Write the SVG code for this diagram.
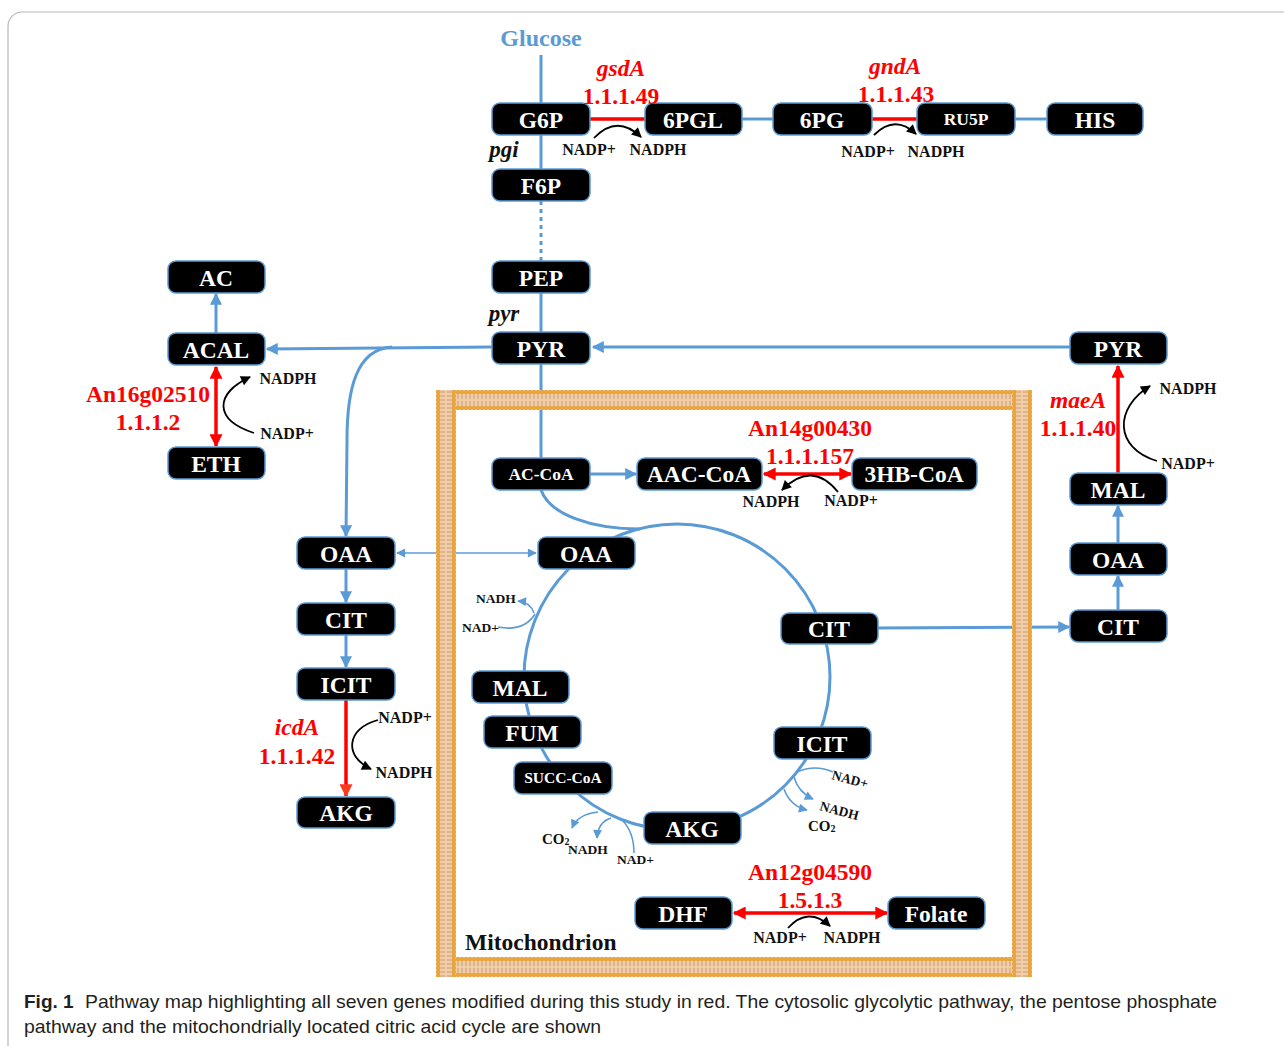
<svg xmlns="http://www.w3.org/2000/svg" width="1284" height="1046" viewBox="0 0 1284 1046">
<style>
.nd rect{fill:#000;stroke:#5B9BD5;stroke-width:1.5}
.nd text{fill:#fff;font-family:"Liberation Serif",serif;font-weight:bold;font-size:23.5px;text-anchor:middle}
.bl{fill:none;stroke:#5B9BD5;stroke-width:3}
.bt{fill:none;stroke:#5B9BD5;stroke-width:1.6}
.rd{fill:none;stroke:#FF0000;stroke-width:3.5}
.bk{fill:none;stroke:#000;stroke-width:1.8}
.rl{fill:#FF0000;font-family:"Liberation Serif",serif;font-weight:bold;font-size:23.5px;text-anchor:middle}
.it{font-style:italic}
.cf{fill:#111;font-family:"Liberation Serif",serif;font-weight:bold;font-size:16px;text-anchor:middle}
.sm{fill:#111;font-family:"Liberation Serif",serif;font-weight:bold;font-size:13.5px}
.cap{fill:#231F20;font-family:"Liberation Sans Narrow","Liberation Sans",sans-serif;font-size:19px}
</style>
<defs>
<marker id="ab" viewBox="0 0 10 10" markerUnits="userSpaceOnUse" markerWidth="14" markerHeight="12" refX="9" refY="5" orient="auto-start-reverse"><path d="M0,0 L10,5 L0,10 z" fill="#5B9BD5"/></marker>
<marker id="abs" viewBox="0 0 10 10" markerUnits="userSpaceOnUse" markerWidth="11" markerHeight="9" refX="9" refY="5" orient="auto-start-reverse"><path d="M0,0 L10,5 L0,10 z" fill="#5B9BD5"/></marker>
<marker id="ar" viewBox="0 0 10 10" markerUnits="userSpaceOnUse" markerWidth="16" markerHeight="13" refX="9" refY="5" orient="auto-start-reverse"><path d="M0,0 L10,5 L0,10 z" fill="#FF0000"/></marker>
<marker id="ar2" viewBox="0 0 10 10" markerUnits="userSpaceOnUse" markerWidth="16" markerHeight="13" refX="9" refY="5" orient="auto-start-reverse"><path d="M0,0 L10,5 L0,10 z" fill="#FF3A1C"/></marker>
<marker id="ak" viewBox="0 0 10 10" markerUnits="userSpaceOnUse" markerWidth="12" markerHeight="10" refX="9" refY="5" orient="auto"><path d="M0,0 L10,5 L0,10 z" fill="#000"/></marker>
<pattern id="memH" patternUnits="userSpaceOnUse" width="4" height="20">
<rect width="4" height="20" fill="#F9CEA4"/>
<path d="M1.4,4.5V9.2M2.6,4.5V9.2M1.4,10.8V15.5M2.6,10.8V15.5" stroke="#A8998A" stroke-width="0.5"/>
<circle cx="2" cy="2.2" r="1.9" fill="#EFA635" stroke="#D08A1A" stroke-width="0.4"/>
<circle cx="2" cy="17.8" r="1.9" fill="#EFA635" stroke="#D08A1A" stroke-width="0.4"/>
</pattern>
<pattern id="memV" patternUnits="userSpaceOnUse" width="20" height="4">
<rect width="20" height="4" fill="#F9CEA4"/>
<path d="M4.5,1.4H9.2M4.5,2.6H9.2M10.8,1.4H15.5M10.8,2.6H15.5" stroke="#A8998A" stroke-width="0.5"/>
<circle cx="2.2" cy="2" r="1.9" fill="#EFA635" stroke="#D08A1A" stroke-width="0.4"/>
<circle cx="17.8" cy="2" r="1.9" fill="#EFA635" stroke="#D08A1A" stroke-width="0.4"/>
</pattern>
</defs>
<rect x="0" y="0" width="1284" height="1046" fill="#fff"/>
<rect x="8" y="12" width="1300" height="1060" rx="14" fill="none" stroke="#B8B8B8" stroke-width="1.2"/>

<g id="connectors">
<path class="bl" d="M541,55V103"/>
<path class="bl" d="M541,135V169"/>
<path class="bl" d="M541,201V261" stroke-dasharray="4,4"/>
<path class="bl" d="M541,293V332"/>
<path class="bl" d="M541,364V458"/>
<path class="bl" d="M742,119H773"/>
<path class="bl" d="M1015,119H1047"/>
<path class="bl" d="M1070,347H593" marker-end="url(#ab)"/>
<path class="bl" d="M492,347L267,349" marker-end="url(#ab)"/>
<path class="bl" d="M392,347C356,349 347,390 347,440L346,536" marker-end="url(#ab)"/>
<path class="bl" d="M216,333V294" marker-end="url(#ab)"/>
<path class="bl" d="M346,569V602" marker-end="url(#ab)"/>
<path class="bl" d="M346,635V667" marker-end="url(#ab)"/>
<path class="bt" d="M397,553H536" marker-start="url(#abs)" marker-end="url(#abs)"/>
<path class="bl" d="M590,474H636" marker-end="url(#ab)"/>
<path class="bl" d="M878,628L1069,627" marker-end="url(#ab)"/>
<path class="bl" d="M1118,610V576" marker-end="url(#ab)"/>
<path class="bl" d="M1118,543V506" marker-end="url(#ab)"/>
<circle class="bl" cx="677" cy="677" r="153"/>
<path class="bl" d="M541,490C550,515 592,529 640,529"/>
<path class="bt" d="M498,627Q524,632 535,614"/>
<path class="bt" d="M534,613Q530,602 518,601" marker-end="url(#abs)"/>
<path class="bt" d="M797,772Q815,764 833,772"/>
<path class="bt" d="M794,777Q798,792 813,799" marker-end="url(#abs)"/>
<path class="bt" d="M784,789Q790,806 807,810" marker-end="url(#abs)"/>
<path class="bt" d="M622,820Q634,832 634,853"/>
<path class="bt" d="M611,818Q598,822 597,838" marker-end="url(#abs)"/>
<path class="bt" d="M598,812Q578,814 572,828" marker-end="url(#abs)"/>
<path class="rd" d="M590,119H645"/>
<path class="rd" d="M872,119H917"/>
<path class="rd" d="M216,367V446" marker-start="url(#ar)" marker-end="url(#ar)"/>
<path class="rd" d="M764,474H851" marker-start="url(#ar)" marker-end="url(#ar)"/>
<path class="rd" d="M1118,473V366" marker-end="url(#ar)"/>
<path class="rd" d="M346,700V796" stroke="#FF3A1C" marker-end="url(#ar2)"/>
<path class="rd" d="M734,913H887" marker-start="url(#ar)" marker-end="url(#ar)"/>
<path class="bk" d="M594,138Q617,114 641,137" marker-end="url(#ak)"/>
<path class="bk" d="M874,135Q895,114 916,134" marker-end="url(#ak)"/>
<path class="bk" d="M254,433C214,420 214,394 250,377" marker-end="url(#ak)"/>
<path class="bk" d="M838,492Q812,460 782,490" marker-end="url(#ak)"/>
<path class="bk" d="M378,720C347,728 343,756 371,769" marker-end="url(#ak)"/>
<path class="bk" d="M1157,461C1114,448 1114,408 1150,386" marker-end="url(#ak)"/>
<path class="bk" d="M788,928Q808,906 830,926" marker-end="url(#ak)"/>
</g>

<g id="membrane">
<rect x="0" y="0" width="596" height="20" fill="url(#memH)" transform="translate(436,390)"/>
<rect x="0" y="0" width="596" height="20" fill="url(#memH)" transform="translate(436,957)"/>
<rect x="0" y="0" width="20" height="587" fill="url(#memV)" transform="translate(436,390)"/>
<rect x="0" y="0" width="20" height="587" fill="url(#memV)" transform="translate(1012,390)"/>
</g>

<g id="n-G6P" class="nd"><rect x="492" y="103" width="98" height="32" rx="8"/><text x="541" y="127.5">G6P</text></g>
<g id="n-6PGL" class="nd"><rect x="645" y="103" width="97" height="32" rx="8"/><text x="693" y="127.5">6PGL</text></g>
<g id="n-6PG" class="nd"><rect x="773" y="103" width="99" height="32" rx="8"/><text x="822" y="127.5">6PG</text></g>
<g id="n-RU5P" class="nd"><rect x="917" y="103" width="98" height="32" rx="8"/><text x="966" y="125" style="font-size:17.5px">RU5P</text></g>
<g id="n-HIS" class="nd"><rect x="1047" y="103" width="96" height="32" rx="8"/><text x="1095" y="127.5">HIS</text></g>
<g id="n-F6P" class="nd"><rect x="492" y="169" width="98" height="32" rx="8"/><text x="541" y="193.5">F6P</text></g>
<g id="n-PEP" class="nd"><rect x="492" y="261" width="98" height="32" rx="8"/><text x="541" y="285.5">PEP</text></g>
<g id="n-PYR" class="nd"><rect x="492" y="332" width="98" height="32" rx="8"/><text x="541" y="356.5">PYR</text></g>
<g id="n-AC" class="nd"><rect x="168" y="261" width="97" height="32" rx="8"/><text x="216" y="285.5">AC</text></g>
<g id="n-ACAL" class="nd"><rect x="168" y="333" width="97" height="32" rx="8"/><text x="216" y="357.5">ACAL</text></g>
<g id="n-ETH" class="nd"><rect x="168" y="447" width="97" height="32" rx="8"/><text x="216" y="471.5">ETH</text></g>
<g id="n-PYR2" class="nd"><rect x="1070" y="332" width="97" height="32" rx="8"/><text x="1118" y="356.5">PYR</text></g>
<g id="n-MAL2" class="nd"><rect x="1070" y="473" width="97" height="32" rx="8"/><text x="1118" y="497.5">MAL</text></g>
<g id="n-OAA2" class="nd"><rect x="1070" y="543" width="97" height="32" rx="8"/><text x="1118" y="567.5">OAA</text></g>
<g id="n-CIT2" class="nd"><rect x="1070" y="610" width="97" height="32" rx="8"/><text x="1118" y="634.5">CIT</text></g>
<g id="n-OAA1" class="nd"><rect x="297" y="537" width="98" height="32" rx="8"/><text x="346" y="561.5">OAA</text></g>
<g id="n-CIT1" class="nd"><rect x="297" y="603" width="98" height="32" rx="8"/><text x="346" y="627.5">CIT</text></g>
<g id="n-ICIT1" class="nd"><rect x="297" y="668" width="98" height="32" rx="8"/><text x="346" y="692.5">ICIT</text></g>
<g id="n-AKG1" class="nd"><rect x="297" y="797" width="98" height="31" rx="8"/><text x="346" y="820.5">AKG</text></g>
<g id="n-ACCoA" class="nd"><rect x="492" y="458" width="98" height="32" rx="8"/><text x="541" y="480" style="font-size:17.5px">AC-CoA</text></g>
<g id="n-AACCoA" class="nd"><rect x="637" y="458" width="125" height="32" rx="8"/><text x="699" y="482">AAC-CoA</text></g>
<g id="n-3HBCoA" class="nd"><rect x="852" y="458" width="125" height="32" rx="8"/><text x="914" y="482">3HB-CoA</text></g>
<g id="n-OAAm" class="nd"><rect x="538" y="537" width="97" height="32" rx="8"/><text x="586" y="561.5">OAA</text></g>
<g id="n-CITm" class="nd"><rect x="781" y="613" width="97" height="31" rx="8"/><text x="829" y="636.5">CIT</text></g>
<g id="n-ICITm" class="nd"><rect x="774" y="727" width="97" height="32" rx="8"/><text x="822" y="751.5">ICIT</text></g>
<g id="n-AKGm" class="nd"><rect x="644" y="812" width="97" height="32" rx="8"/><text x="692" y="836.5">AKG</text></g>
<g id="n-SUCC" class="nd"><rect x="514" y="762" width="98" height="32" rx="8"/><text x="563" y="783" style="font-size:15.5px">SUCC-CoA</text></g>
<g id="n-FUM" class="nd"><rect x="484" y="716" width="97" height="32" rx="8"/><text x="532" y="740.5">FUM</text></g>
<g id="n-MALm" class="nd"><rect x="472" y="671" width="97" height="32" rx="8"/><text x="520" y="695.5">MAL</text></g>
<g id="n-DHF" class="nd"><rect x="635" y="897" width="97" height="32" rx="8"/><text x="683" y="921.5">DHF</text></g>
<g id="n-Folate" class="nd"><rect x="888" y="897" width="97" height="32" rx="8"/><text x="936" y="921.5">Folate</text></g>

<g id="labels">
<text x="541" y="46" style="fill:#5B9BD5;font-family:'Liberation Serif',serif;font-weight:bold;font-size:24px;text-anchor:middle">Glucose</text>
<text x="504" y="157" style="fill:#111;font-family:'Liberation Serif',serif;font-weight:bold;font-style:italic;font-size:23px;text-anchor:middle">pgi</text>
<text x="504" y="321" style="fill:#111;font-family:'Liberation Serif',serif;font-weight:bold;font-style:italic;font-size:23px;text-anchor:middle">pyr</text>
<text x="465" y="950" style="fill:#111;font-family:'Liberation Serif',serif;font-weight:bold;font-size:23.5px">Mitochondrion</text>
<text class="rl it" x="621" y="76">gsdA</text>
<text class="rl" x="621" y="104">1.1.1.49</text>
<text class="rl it" x="895" y="74">gndA</text>
<text class="rl" x="896" y="102">1.1.1.43</text>
<text class="rl" x="148" y="402">An16g02510</text>
<text class="rl" x="148" y="430">1.1.1.2</text>
<text class="rl" x="810" y="436">An14g00430</text>
<text class="rl" x="810" y="464">1.1.1.157</text>
<text class="rl it" x="1078" y="408">maeA</text>
<text class="rl" x="1078" y="436">1.1.1.40</text>
<text class="rl it" x="297" y="735">icdA</text>
<text class="rl" x="297" y="764">1.1.1.42</text>
<text class="rl" x="810" y="880">An12g04590</text>
<text class="rl" x="810" y="908">1.5.1.3</text>
<text class="cf" x="589" y="155">NADP+</text>
<text class="cf" x="658" y="155">NADPH</text>
<text class="cf" x="868" y="157">NADP+</text>
<text class="cf" x="936" y="157">NADPH</text>
<text class="cf" x="288" y="384">NADPH</text>
<text class="cf" x="287" y="439">NADP+</text>
<text class="cf" x="771" y="507">NADPH</text>
<text class="cf" x="851" y="506">NADP+</text>
<text class="cf" x="405" y="723">NADP+</text>
<text class="cf" x="404" y="778">NADPH</text>
<text class="cf" x="1188" y="394">NADPH</text>
<text class="cf" x="1188" y="469">NADP+</text>
<text class="cf" x="780" y="943">NADP+</text>
<text class="cf" x="852" y="943">NADPH</text>
<text class="sm" x="476" y="603">NADH</text>
<text class="sm" x="462" y="632">NAD+</text>
<text class="sm" x="831" y="779" transform="rotate(15 831 779)">NAD+</text>
<text class="sm" x="819" y="810" transform="rotate(15 819 810)">NADH</text>
<text class="sm" x="808" y="831" style="font-size:15px">CO<tspan font-size="10" dy="1">2</tspan></text>
<text class="sm" x="542" y="844" style="font-size:15px">CO<tspan font-size="10" dy="1">2</tspan></text>
<text class="sm" x="568" y="854">NADH</text>
<text class="sm" x="617" y="864">NAD+</text>
</g>

<g id="caption">
<text class="cap" x="24" y="1008" style="font-weight:bold">Fig. 1</text>
<text class="cap" x="85" y="1008" textLength="1132" lengthAdjust="spacingAndGlyphs">Pathway map highlighting all seven genes modified during this study in red. The cytosolic glycolytic pathway, the pentose phosphate</text>
<text class="cap" x="24" y="1033" textLength="577" lengthAdjust="spacingAndGlyphs">pathway and the mitochondrially located citric acid cycle are shown</text>
</g>
</svg>
